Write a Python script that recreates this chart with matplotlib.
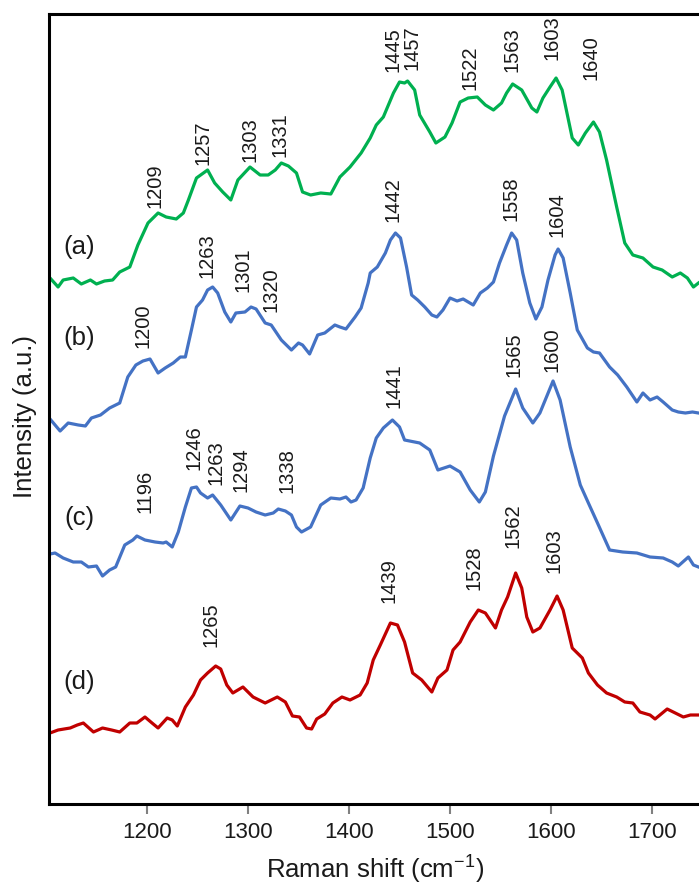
import numpy as np
import matplotlib.pyplot as plt

plt.rcParams['font.family'] = ['Liberation Sans', 'DejaVu Sans']
plt.rcParams['mathtext.fontset'] = 'custom'
plt.rcParams['mathtext.rm'] = 'Liberation Sans'

# spectrum (a) - green
wn_a = [1104, 1112, 1117, 1127, 1135, 1144, 1150, 1158, 1166, 1173, 1183, 1191, 1201, 1211, 1219,
        1229, 1236, 1241, 1249, 1260, 1267, 1275, 1283, 1290, 1302, 1312, 1320, 1327, 1333, 1340,
        1348, 1354, 1362, 1372, 1382, 1391, 1401, 1412, 1421, 1427, 1434, 1444, 1450, 1455, 1458,
        1465, 1470, 1480, 1486, 1495, 1502, 1510, 1518, 1527, 1535, 1543, 1551, 1556, 1562, 1571,
        1581, 1586, 1592, 1599, 1605, 1611, 1621, 1627, 1634, 1642, 1648, 1655, 1665, 1673, 1681,
        1691, 1701, 1710, 1720, 1728, 1735, 1741, 1746]
int_a = [526, 517, 524, 526, 520, 524, 520, 523, 524, 532, 537, 559, 581, 591, 587,
         585, 591, 604, 626, 634, 621, 612, 604, 624, 637, 629, 629, 634, 641, 638,
         631, 612, 609, 611, 610, 627, 637, 651, 666, 679, 687, 711, 722, 721, 723,
         714, 689, 672, 661, 667, 681, 702, 706, 707, 699, 694, 701, 711, 720, 714,
         696, 692, 706, 717, 726, 714, 666, 659, 671, 682, 672, 644, 597, 561, 549,
         546, 537, 534, 527, 531, 526, 517, 521]

# spectrum (b) - blue
wn_b = [1104, 1114, 1122, 1132, 1139, 1145, 1154, 1163, 1173, 1181, 1189, 1196, 1203, 1211, 1218,
        1226, 1233, 1238, 1244, 1249, 1255, 1260, 1265, 1270, 1277, 1283, 1288, 1297, 1303, 1308,
        1317, 1323, 1333, 1343, 1350, 1354, 1361, 1369, 1376, 1386, 1391, 1397, 1406, 1412, 1419,
        1421, 1428, 1436, 1441, 1446, 1451, 1457, 1462, 1468, 1475, 1482, 1487, 1493, 1500, 1507,
        1513, 1518, 1523, 1530, 1537, 1543, 1549, 1556, 1561, 1566, 1572, 1579, 1585, 1591, 1597,
        1604, 1607, 1612, 1619, 1626, 1636, 1642, 1648, 1658, 1666, 1675, 1685, 1691, 1698, 1705,
        1711, 1720, 1726, 1733, 1740, 1746]
int_b = [385, 373, 381, 379, 378, 386, 389, 396, 401, 427, 439, 443, 445, 431, 436,
         441, 447, 447, 474, 497, 504, 514, 517, 511, 492, 482, 491, 492, 497, 495,
         481, 479, 464, 454, 461, 459, 450, 469, 471, 479, 477, 475, 487, 496, 521,
         531, 537, 551, 564, 571, 566, 537, 509, 504, 497, 489, 487, 494, 506, 503,
         505, 502, 499, 511, 516, 522, 541, 559, 571, 564, 531, 501, 485, 497, 524,
         549, 555, 546, 511, 474, 456, 452, 451, 437, 429, 417, 402, 411, 404, 407,
         402, 394, 392, 391, 392, 391]

# spectrum (c) - blue
wn_c = [1104, 1109, 1117, 1127, 1135, 1142, 1150, 1156, 1163, 1169, 1178, 1186, 1190, 1198, 1208,
        1216, 1219, 1225, 1231, 1238, 1244, 1249, 1253, 1260, 1265, 1273, 1283, 1292, 1300, 1308,
        1317, 1325, 1330, 1337, 1343, 1348, 1353, 1362, 1372, 1382, 1391, 1397, 1402, 1407, 1414,
        1421, 1427, 1434, 1443, 1450, 1455, 1470, 1480, 1488, 1500, 1510, 1520, 1529, 1535, 1543,
        1554, 1565, 1572, 1582, 1589, 1602, 1609, 1619, 1629, 1637, 1646, 1658, 1671, 1685, 1698,
        1711, 1720, 1726, 1736, 1741, 1746]
int_c = [250, 251, 246, 242, 242, 237, 238, 228, 234, 237, 259, 264, 268, 264, 262,
         261, 262, 257, 272, 297, 316, 317, 311, 306, 309, 299, 284, 298, 296, 292,
         289, 291, 295, 293, 289, 277, 272, 277, 299, 306, 305, 307, 302, 304, 316,
         346, 366, 376, 384, 377, 364, 361, 354, 334, 338, 332, 314, 302, 312, 348,
         388, 415, 396, 381, 391, 423, 404, 357, 319, 301, 281, 254, 252, 251, 247,
         246, 242, 238, 247, 239, 237]

# spectrum (d) - red
wn_d = [1104, 1112, 1124, 1131, 1137, 1147, 1156, 1165, 1173, 1183, 1190, 1198, 1205, 1211, 1220,
        1225, 1230, 1238, 1246, 1253, 1260, 1268, 1273, 1279, 1285, 1295, 1305, 1317, 1329, 1337,
        1344, 1351, 1358, 1363, 1368, 1376, 1384, 1393, 1401, 1411, 1418, 1424, 1431, 1441, 1448,
        1455, 1463, 1472, 1482, 1488, 1497, 1503, 1510, 1520, 1528, 1535, 1545, 1551, 1557, 1565,
        1571, 1576, 1582, 1589, 1599, 1606, 1612, 1621, 1631, 1637, 1646, 1655, 1665, 1673, 1681,
        1688, 1698, 1703, 1715, 1723, 1731, 1738, 1746]
int_d = [71, 74, 76, 79, 81, 72, 76, 74, 72, 81, 81, 87, 81, 76, 86,
         84, 78, 97, 109, 124, 131, 138, 135, 119, 111, 117, 107, 101, 107, 102,
         88, 87, 76, 75, 85, 90, 101, 107, 104, 109, 121, 144, 159, 181, 179,
         162, 131, 124, 112, 126, 134, 154, 162, 182, 194, 191, 176, 194, 207, 231,
         216, 187, 172, 176, 194, 208, 194, 156, 146, 131, 119, 111, 107, 102, 101,
         92, 89, 85, 95, 91, 87, 89, 89]

# peak labels: text, x position (cm-1), height of label base
peaks_a = ["1209", "1257", "1303", "1331", "1445", "1457", "1522", "1563", "1603", "1640"]
peak_x_a = [1208, 1255, 1302, 1332, 1444, 1462, 1520, 1561, 1601, 1640]
peak_y_a = [596, 639, 642, 647, 732, 734, 714, 732, 744, 724]

peaks_b = ["1200", "1263", "1301", "1320", "1442", "1558", "1604"]
peak_x_b = [1196, 1259, 1295, 1323, 1444, 1560, 1606]
peak_y_b = [456, 526, 512, 492, 582, 583, 567]

peaks_c = ["1196", "1246", "1263", "1294", "1338", "1441", "1565", "1600"]
peak_x_c = [1198, 1247, 1268, 1293, 1339, 1445, 1563, 1601]
peak_y_c = [291, 334, 319, 312, 311, 396, 427, 432]

peaks_d = ["1265", "1439", "1528", "1562", "1603"]
peak_x_d = [1263, 1440, 1524, 1562, 1603]
peak_y_d = [157, 201, 214, 256, 231]

sample_names = ["(a)", "(b)", "(c)", "(d)"]
sample_y = [557, 466, 286, 122]

colors = ['#00B050', '#4472C4', '#4472C4', '#C00000']

fig = plt.figure(figsize=(6.99, 8.84), dpi=100)
ax = fig.add_axes([49 / 699, 80 / 884, 650 / 699, 790 / 884])

spectra = [(wn_a, int_a), (wn_b, int_b), (wn_c, int_c), (wn_d, int_d)]
for (wn, inten), col in zip(spectra, colors):
    ax.plot(wn, inten, color=col, linewidth=2.3, solid_joinstyle='round')

all_peaks = [(peaks_a, peak_x_a, peak_y_a), (peaks_b, peak_x_b, peak_y_b),
             (peaks_c, peak_x_c, peak_y_c), (peaks_d, peak_x_d, peak_y_d)]
for labels, xs, ys in all_peaks:
    for s, x, y in zip(labels, xs, ys):
        ax.text(x, y, s, rotation=90, ha='center', va='bottom', fontsize=14.5, color='#1a1a1a')

for name, y in zip(sample_names, sample_y):
    ax.text(1133, y, name, ha='center', va='center', fontsize=18.5, color='#1a1a1a')

ax.set_xlim(1103, 1746.5)
ax.set_ylim(0, 790)
ax.set_xticks([1200, 1300, 1400, 1500, 1600, 1700])
ax.set_yticks([])
ax.tick_params(axis='x', direction='out', length=7, width=1.5, color='#808080',
               labelsize=16, labelcolor='#1a1a1a', pad=6)
for side in ['left', 'top', 'bottom']:
    ax.spines[side].set_linewidth(2.2)
    ax.spines[side].set_color('black')
ax.spines['right'].set_visible(False)

fig.text(375 / 699, 1 - 869 / 884, r'Raman shift (cm$^{\mathrm{-1}}$)', ha='center', va='center',
         fontsize=18.5, color='#1a1a1a')
fig.text(25 / 699, 1 - 417 / 884, 'Intensity (a.u.)', rotation=90, ha='center', va='center',
         fontsize=18.5, color='#1a1a1a')

fig.savefig('out.png', dpi=100)
